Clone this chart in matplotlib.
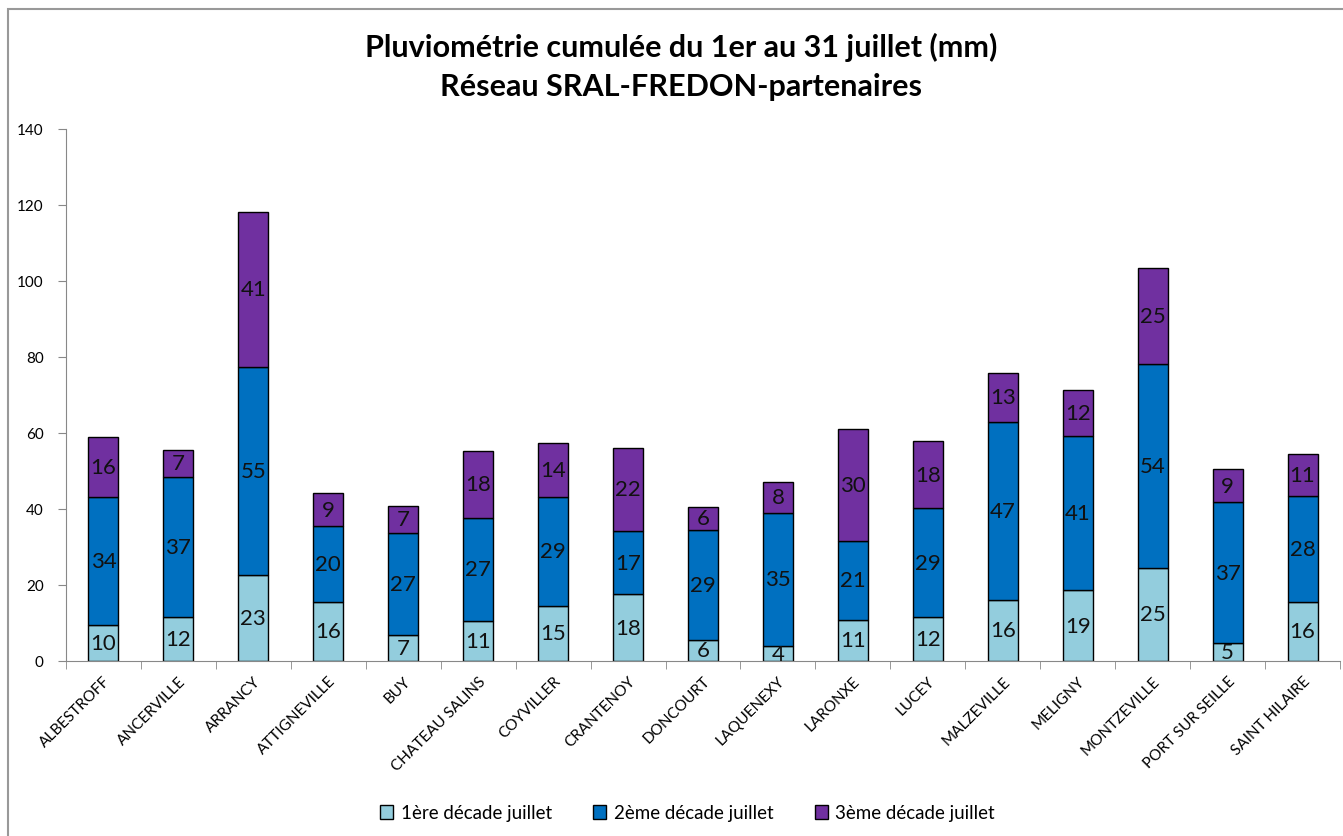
import numpy as np
import matplotlib.pyplot as plt
from matplotlib.patches import Rectangle

stations = ['ALBESTROFF', 'ANCERVILLE', 'ARRANCY', 'ATTIGNEVILLE', 'BUY',
            'CHATEAU SALINS', 'COYVILLER', 'CRANTENOY', 'DONCOURT', 'LAQUENEXY',
            'LARONXE', 'LUCEY', 'MALZEVILLE', 'MELIGNY', 'MONTZEVILLE',
            'PORT SUR SEILLE', 'SAINT HILAIRE']
decade1 = [9.6, 11.6, 22.7, 15.6, 6.9, 10.6, 14.6, 17.6, 5.6, 3.9,
           10.9, 11.6, 16.1, 18.6, 24.6, 4.7, 15.6]
decade2 = [33.6, 36.9, 54.7, 19.9, 26.8, 27.1, 28.6, 16.6, 28.9, 35.1,
           20.6, 28.6, 46.8, 40.7, 53.6, 37.1, 27.8]
decade3 = [15.8, 7.0, 40.8, 8.7, 7.1, 17.6, 14.1, 21.9, 6.0, 8.1,
           29.6, 17.6, 12.9, 12.1, 25.1, 8.6, 11.2]

series = [('1ère décade juillet', decade1, '#93CDDD'),
          ('2ème décade juillet', decade2, '#0070C0'),
          ('3ème décade juillet', decade3, '#7030A0')]

plt.rcParams['font.family'] = ['Lato', 'DejaVu Sans']

fig = plt.figure(figsize=(13.43, 8.37), dpi=100)
ax = fig.add_axes([66 / 1343, 1 - 662 / 837, 1274 / 1343, 532 / 837])

x = np.arange(len(stations))
bottom = np.zeros(len(stations))
for label, values, color in series:
    bars = ax.bar(x, values, 0.4, bottom=bottom, color=color,
                  edgecolor='black', linewidth=1, label=label)
    ax.bar_label(bars, labels=[f'{round(v)}' for v in values],
                 label_type='center', fontsize=16, color='#111111')
    bottom += np.array(values)

ax.set_xlim(-0.5, len(stations) - 0.5)
ax.set_ylim(0, 140)
ax.set_yticks(range(0, 141, 20))
ax.tick_params(axis='y', labelsize=11, length=6, color='#888888', pad=10)
ax.set_xticks(x)
ax.set_xticklabels(stations, rotation=45, ha='right', rotation_mode='anchor',
                   fontsize=11)
ax.tick_params(axis='x', length=0, pad=9)
ax.set_xticks(np.arange(-0.5, len(stations)), minor=True)
ax.tick_params(axis='x', which='minor', length=6, color='#888888')

for side in ('top', 'right'):
    ax.spines[side].set_visible(False)
for side in ('left', 'bottom'):
    ax.spines[side].set_color('#888888')

fig.text(0.507, 1 - 47 / 837, 'Pluviométrie cumulée du 1er au 31 juillet (mm)',
         ha='center', va='center', fontsize=22, fontweight='bold')
fig.text(0.507, 1 - 87 / 837, 'Réseau SRAL-FREDON-partenaires',
         ha='center', va='center', fontsize=22, fontweight='bold')

fig.legend(loc='center', bbox_to_anchor=(0.512, 1 - 814 / 837), ncol=3,
           frameon=False, fontsize=13.5, handlelength=0.7, handleheight=0.7,
           columnspacing=2.2, handletextpad=0.4)

fig.patches.append(Rectangle((8 / 1343, -0.1), 1.2, 1 - 10 / 837 + 0.1,
                             transform=fig.transFigure, fill=False,
                             edgecolor='#999999', linewidth=1.5))

fig.savefig('out.png', dpi=100)
